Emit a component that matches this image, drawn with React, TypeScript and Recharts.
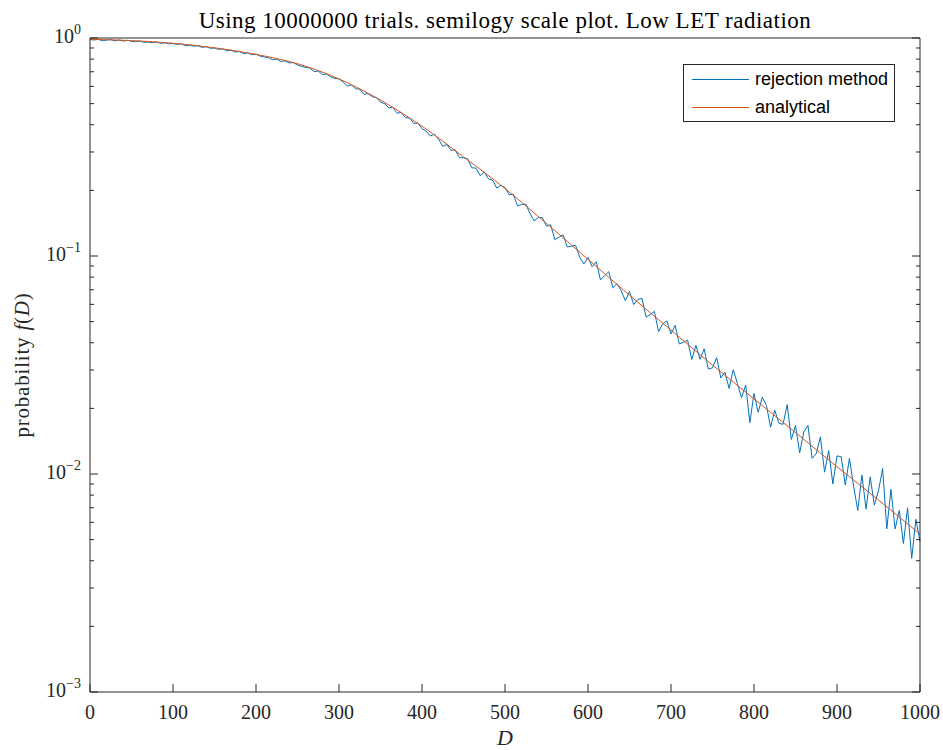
import { LineChart, Line, XAxis, YAxis, Legend } from 'recharts'

const serif = '"Liberation Serif", "Times New Roman", serif'
const sans = '"Liberation Sans", Arial, Helvetica, sans-serif'
const axisColor = '#262626'

const title = 'Using 10000000 trials. semilogy scale plot. Low LET radiation'

const xTicks = [0, 100, 200, 300, 400, 500, 600, 700, 800, 900, 1000]
const yMajorTicks = [0.001, 0.01, 0.1, 1]
const yMinorTicks = [
  0.002, 0.003, 0.004, 0.005, 0.006, 0.007, 0.008, 0.009,
  0.02, 0.03, 0.04, 0.05, 0.06, 0.07, 0.08, 0.09,
  0.2, 0.3, 0.4, 0.5, 0.6, 0.7, 0.8, 0.9,
]
const yAllTicks = [...yMajorTicks, ...yMinorTicks]

// rejection method histogram, one value every 5 units of D (0..1000)
const dStep = 5
const fRejection = [
  0.984, 0.979, 0.985, 0.972, 0.978, 0.983, 0.970, 0.979, 0.968, 0.976, 0.965,
  0.962, 0.969, 0.955, 0.958, 0.952, 0.960, 0.945, 0.950, 0.940, 0.944,
  0.935, 0.940, 0.921, 0.926, 0.917, 0.922, 0.906, 0.912, 0.897, 0.899,
  0.887, 0.891, 0.873, 0.880, 0.862, 0.867, 0.848, 0.855, 0.838, 0.844,
  0.826, 0.818, 0.812, 0.795, 0.801, 0.780, 0.786, 0.768, 0.771, 0.752,
  0.741, 0.733, 0.728, 0.701, 0.705, 0.680, 0.683, 0.664, 0.652, 0.650,
  0.628, 0.603, 0.610, 0.585, 0.583, 0.552, 0.556, 0.538, 0.533, 0.508,
  0.500, 0.478, 0.480, 0.452, 0.455, 0.431, 0.430, 0.406, 0.407, 0.384,
  0.374, 0.355, 0.362, 0.343, 0.318, 0.325, 0.305, 0.307, 0.283, 0.282,
  0.279, 0.254, 0.253, 0.234, 0.243, 0.226, 0.223, 0.205, 0.211, 0.206,
  0.191, 0.192, 0.170, 0.172, 0.173, 0.157, 0.145, 0.150, 0.150, 0.137,
  0.139, 0.119, 0.122, 0.125, 0.110, 0.111, 0.112, 0.0988, 0.092, 0.0985,
  0.0893, 0.0940, 0.0776, 0.0813, 0.0847, 0.0715, 0.0747, 0.0692, 0.0624, 0.0687,
  0.0599, 0.0632, 0.0639, 0.0525, 0.0539, 0.0557, 0.0450, 0.0488, 0.0504, 0.0439,
  0.0481, 0.0395, 0.0402, 0.0411, 0.0335, 0.0389, 0.0336, 0.0375, 0.0303, 0.0307,
  0.0342, 0.0276, 0.0293, 0.0247, 0.0301, 0.0260, 0.0224, 0.0256, 0.0172, 0.0234,
  0.0192, 0.0225, 0.0206, 0.0164, 0.0196, 0.0171, 0.0169, 0.0208, 0.0144, 0.0167,
  0.0125, 0.0156, 0.0167, 0.0118, 0.0124, 0.0148, 0.0102, 0.0128, 0.0090, 0.0121,
  0.0120, 0.0089, 0.0118, 0.0088, 0.0068, 0.0099, 0.0069, 0.0097, 0.0072, 0.0084,
  0.0106, 0.0056, 0.0085, 0.0056, 0.0068, 0.0048, 0.0070, 0.0041, 0.0062, 0.0049,
]

const dAnalytical = [0, 50, 100, 150, 200, 250, 300, 350, 400, 450, 500, 550, 600, 650, 700, 750, 800, 850, 900, 950, 1000]
const fAnalytical = [
  0.986, 0.973, 0.946, 0.902, 0.841, 0.762, 0.649, 0.519, 0.394, 0.285, 0.204,
  0.141, 0.0966, 0.0661, 0.0457, 0.0316, 0.0221, 0.0155, 0.0108, 0.0076, 0.0053,
]

const series = [
  { name: 'rejection method', color: '#0072BD' },
  { name: 'analytical', color: '#D95319' },
]

const rejectionRows = fRejection.map((f, i) => ({ d: i * dStep, f }))
const analyticalRows = dAnalytical.map((d, i) => ({ d, f: fAnalytical[i] }))

const isMajor = (v: number) => yMajorTicks.includes(v)

function BottomTick({ x, y, payload }: any) {
  return (
    <g>
      <line x1={x} y1={y} x2={x} y2={y - 8} stroke={axisColor} />
      <text x={x} y={y + 27} textAnchor="middle" fontFamily={serif} fontSize={20} fill={axisColor}>
        {payload.value}
      </text>
    </g>
  )
}

function TopTick({ x, y }: any) {
  return <line x1={x} y1={y} x2={x} y2={y + 8} stroke={axisColor} />
}

function LeftTick({ x, y, payload }: any) {
  const v = payload.value
  const major = isMajor(v)
  const exp = Math.round(Math.log10(v))
  return (
    <g>
      <line x1={x} y1={y} x2={x + (major ? 8 : 4)} y2={y} stroke={axisColor} />
      {major && (
        <text x={x - 9} y={y + 5} textAnchor="end" fontFamily={serif} fontSize={20} fill={axisColor}>
          10
          <tspan dy={-9} fontSize={14}>
            {exp < 0 ? `\u2212${-exp}` : exp}
          </tspan>
        </text>
      )}
    </g>
  )
}

function RightTick({ x, y, payload }: any) {
  const major = isMajor(payload.value)
  return <line x1={x} y1={y} x2={x - (major ? 8 : 4)} y2={y} stroke={axisColor} />
}

function LegendBox() {
  return (
    <div
      style={{
        boxSizing: 'border-box',
        width: 212,
        border: `1px solid ${axisColor}`,
        background: '#fff',
        paddingLeft: 8,
        fontFamily: sans,
        fontSize: 18,
        color: '#000',
      }}
    >
      {series.map((s) => (
        <div key={s.name} style={{ display: 'flex', alignItems: 'center', height: 28 }}>
          <div style={{ width: 57, height: 1, flexShrink: 0, background: s.color, marginRight: 6 }} />
          <span>{s.name}</span>
        </div>
      ))}
    </div>
  )
}

export default function App() {
  return (
    <div style={{ position: 'absolute', left: 0, top: 0, background: '#fff' }}>
      <LineChart width={943} height={750} margin={{ top: 37, right: 22, bottom: 0, left: 0 }}>
        <XAxis
          xAxisId="b"
          type="number"
          dataKey="d"
          domain={[0, 1000]}
          ticks={xTicks}
          interval={0}
          height={58}
          tickSize={0}
          tickMargin={0}
          tick={<BottomTick />}
          axisLine={{ stroke: axisColor }}
          label={{
            content: ({ viewBox }: any) => (
              <text
                x={viewBox.x + viewBox.width / 2}
                y={viewBox.y + 53}
                textAnchor="middle"
                fontFamily={serif}
                fontStyle="italic"
                fontSize={22}
                fill={axisColor}
              >
                D
              </text>
            ),
          }}
        />
        <XAxis
          xAxisId="t"
          orientation="top"
          type="number"
          dataKey="d"
          domain={[0, 1000]}
          ticks={xTicks}
          interval={0}
          height={1}
          tickSize={0}
          tickMargin={0}
          tick={<TopTick />}
          axisLine={{ stroke: axisColor }}
          label={{
            content: ({ viewBox }: any) => (
              <text
                x={viewBox.x + viewBox.width / 2}
                y={viewBox.y + viewBox.height - 10}
                textAnchor="middle"
                fontFamily={serif}
                fontSize={23}
                letterSpacing={0.5}
                fill="#000"
              >
                {title}
              </text>
            ),
          }}
        />
        <YAxis
          yAxisId="l"
          scale="log"
          domain={[0.001, 1]}
          allowDataOverflow
          ticks={yAllTicks}
          interval={0}
          width={90}
          tickSize={0}
          tickMargin={0}
          tick={<LeftTick />}
          axisLine={{ stroke: axisColor }}
          label={{
            content: ({ viewBox }: any) => {
              const cy = viewBox.y + viewBox.height / 2
              return (
                <text
                  x={29}
                  y={cy}
                  transform={`rotate(-90, 29, ${cy})`}
                  textAnchor="middle"
                  fontFamily={serif}
                  fontSize={21}
                  letterSpacing={0.8}
                  fill={axisColor}
                >
                  probability <tspan fontStyle="italic">f</tspan>(<tspan fontStyle="italic">D</tspan>)
                </text>
              )
            },
          }}
        />
        <YAxis
          yAxisId="r"
          orientation="right"
          scale="log"
          domain={[0.001, 1]}
          allowDataOverflow
          ticks={yAllTicks}
          interval={0}
          width={1}
          tickSize={0}
          tickMargin={0}
          tick={<RightTick />}
          axisLine={{ stroke: axisColor }}
        />
        <Legend
          content={<LegendBox />}
          layout="vertical"
          align="center"
          verticalAlign="middle"
          wrapperStyle={{ left: 683, top: 64, width: 212 }}
        />
        <Line
          xAxisId="b"
          yAxisId="l"
          data={rejectionRows}
          dataKey="f"
          name={series[0].name}
          type="linear"
          stroke={series[0].color}
          strokeWidth={1}
          dot={false}
          isAnimationActive={false}
        />
        <Line
          xAxisId="b"
          yAxisId="l"
          data={analyticalRows}
          dataKey="f"
          name={series[1].name}
          type="monotone"
          stroke={series[1].color}
          strokeWidth={1}
          dot={false}
          isAnimationActive={false}
        />
      </LineChart>
    </div>
  )
}
